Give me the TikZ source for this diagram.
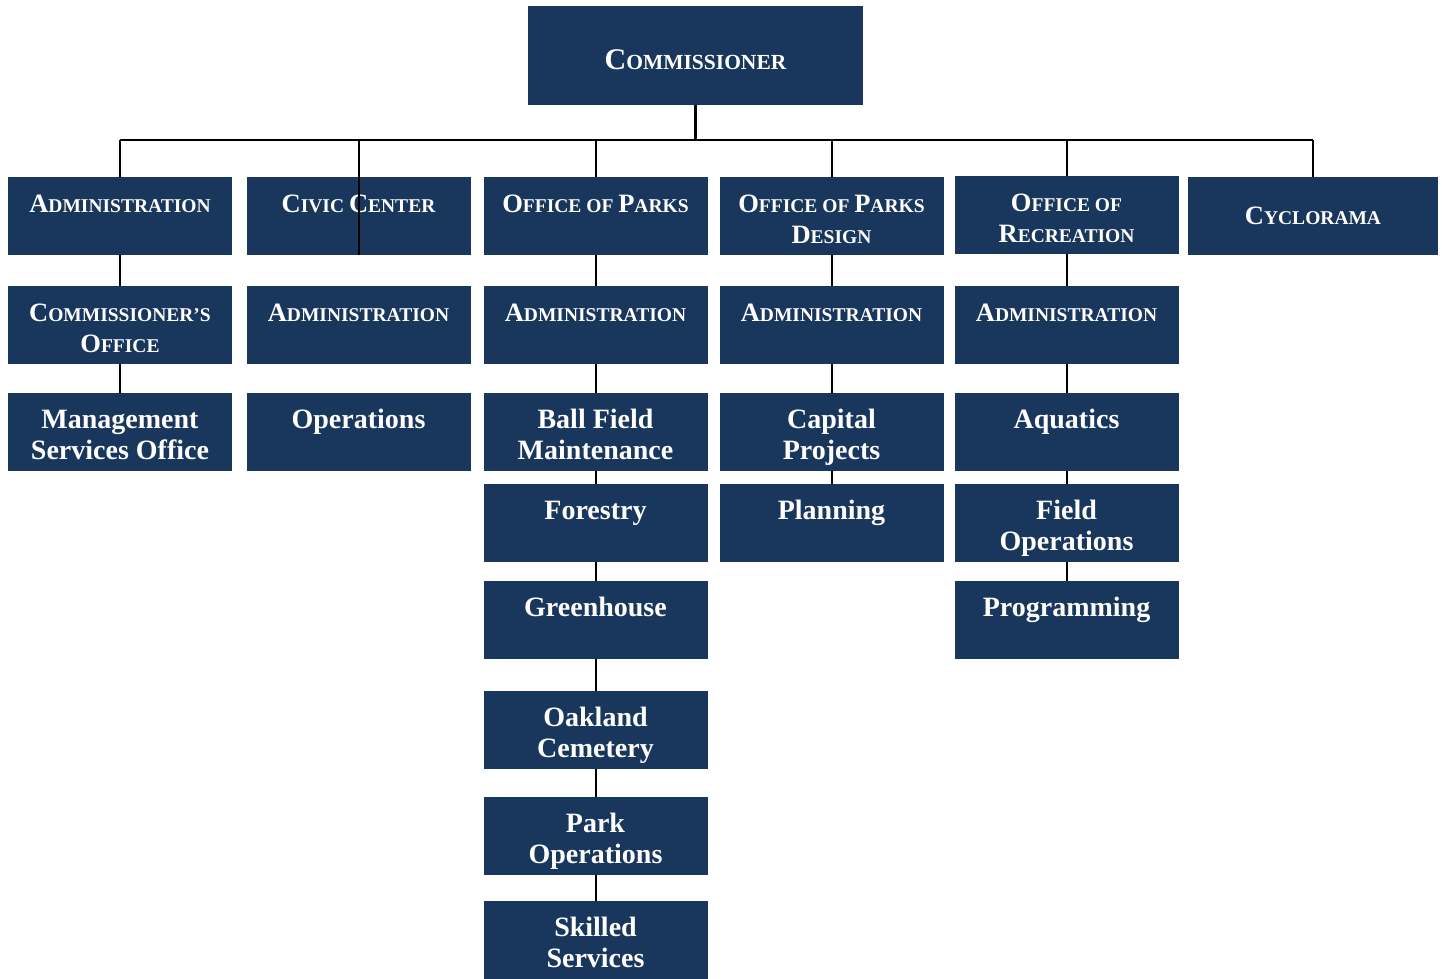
\documentclass[tikz,border=0pt]{standalone}
\usepackage{fontspec}
\setmainfont{Liberation Serif}
\definecolor{navy}{RGB}{25,54,93}
\newcommand\SC[2]{{\fontsize{26.5}{31}\selectfont #1}{\fontsize{19.5}{31}\selectfont #2}}
\newcommand\BT[1]{\parbox[c][78pt][t]{224pt}{\centering\bfseries\fontsize{28}{31}\selectfont\rule{0pt}{35.5pt}#1\par}}
\tikzset{
  unit/.style={fill=navy, text=white, inner sep=0pt, minimum width=224pt, minimum height=78pt},
  link/.style={line width=2pt, black}
}
\begin{document}
\begin{tikzpicture}[x=1pt,y=-1pt]
\useasboundingbox (0,0) rectangle (1442,979);
% top
\node[unit, minimum width=335pt, minimum height=99pt, font=\bfseries, text height=29pt, text depth=0pt] (com) at (695.5,55.5)
  {{\fontsize{30}{36}\selectfont C}{\fontsize{21.5}{36}\selectfont OMMISSIONER}};
% row 1
\node[unit] (adm) at (120,216) {\BT{\SC{A}{DMINISTRATION}}};
\node[unit] (cc) at (358.5,216) {\BT{\SC{C}{IVIC }\SC{C}{ENTER}}};
\node[unit] (op) at (595.5,216) {\BT{\SC{O}{FFICE OF }\SC{P}{ARKS}}};
\node[unit] (opd) at (831.5,216) {\BT{\SC{O}{FFICE OF }\SC{P}{ARKS}\\\SC{D}{ESIGN}}};
\node[unit] (or) at (1066.5,215) {\BT{\SC{O}{FFICE OF}\\\SC{R}{ECREATION}}};
\node[unit, minimum width=250pt, font=\bfseries] (cyc) at (1313,216) {\SC{C}{YCLORAMA}};
% row 2
\node[unit] (co) at (120,325) {\BT{\SC{C}{OMMISSIONER’S}\\\SC{O}{FFICE}}};
\node[unit] (cca) at (358.5,325) {\BT{\SC{A}{DMINISTRATION}}};
\node[unit] (opa) at (595.5,325) {\BT{\SC{A}{DMINISTRATION}}};
\node[unit] (opda) at (831.5,325) {\BT{\SC{A}{DMINISTRATION}}};
\node[unit] (ora) at (1066.5,325) {\BT{\SC{A}{DMINISTRATION}}};
% row 3
\node[unit] (mso) at (120,432) {\BT{Management\\Services Office}};
\node[unit] (ccop) at (358.5,432) {\BT{Operations}};
\node[unit] (bfm) at (595.5,432) {\BT{Ball Field\\Maintenance}};
\node[unit] (cp) at (831.5,432) {\BT{Capital\\Projects}};
\node[unit] (aq) at (1066.5,432) {\BT{Aquatics}};
% row 4
\node[unit] (fo) at (595.5,523) {\BT{Forestry}};
\node[unit] (pl) at (831.5,523) {\BT{Planning}};
\node[unit] (fop) at (1066.5,523) {\BT{Field\\Operations}};
% row 5
\node[unit] (gh) at (595.5,620) {\BT{Greenhouse}};
\node[unit] (pr) at (1066.5,620) {\BT{Programming}};
% rows 6-8
\node[unit] (oc) at (595.5,730) {\BT{Oakland\\Cemetery}};
\node[unit] (po) at (595.5,836) {\BT{Park\\Operations}};
\node[unit] (ss) at (595.5,940) {\BT{Skilled\\Services}};
% bus
\coordinate (bus) at (695.5,140);
\coordinate (busL) at (120,140);
\coordinate (busR) at (1313,140);
\draw[link, line width=3pt] (com.south) -- (bus);
\draw[link] (busL) -- (busR);
\foreach \n in {adm,op,opd,or,cyc} \draw[link] (\n.north |- busL) -- (\n.north);
\draw[link] (cc.south) -- (cc.south |- busL);
% columns
\foreach \a/\b in {adm/co, co/mso, op/opa, opa/bfm, bfm/fo, fo/gh, gh/oc, oc/po, po/ss,
  opd/opda, opda/cp, cp/pl, or/ora, ora/aq, aq/fop, fop/pr}
  \draw[link] (\a) -- (\b);
\end{tikzpicture}
\end{document}
